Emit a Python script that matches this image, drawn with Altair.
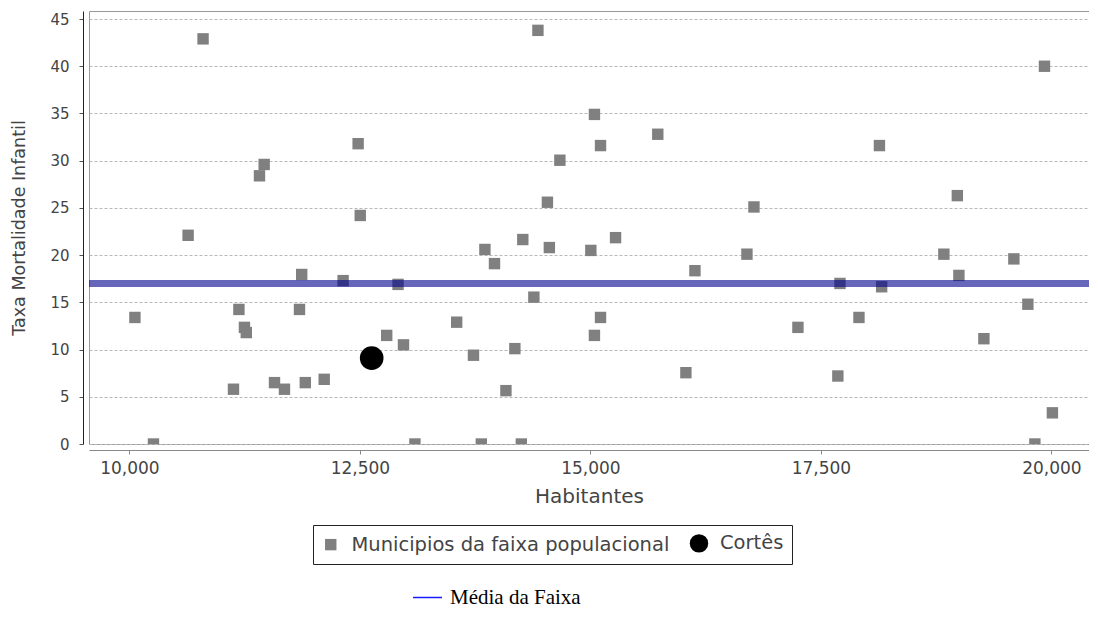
import altair as alt
import pandas as pd

# Municipios da faixa populacional
habitantes = [10060, 10261, 10637, 10799, 11129, 11188, 11248, 11268, 11411, 11462,
              11574, 11682, 11845, 11869, 11908, 12113, 12318, 12481, 12504, 12791,
              12914, 12973, 13097, 13550, 13732, 13817, 13856, 13960, 14084, 14181,
              14251, 14267, 14387, 14431, 14534, 14555, 14669, 15005, 15044, 15044,
              15110, 15110, 15273, 15731, 16036, 16134, 16698, 16774, 17251, 17684,
              17707, 17913, 18135, 18159, 18834, 18980, 18997, 19268, 19593, 19745,
              19821, 19925, 20011]
taxa = [13.4, 0, 22.1, 42.9, 5.8, 14.25, 12.35, 11.8, 28.4, 29.6,
        6.5, 5.8, 14.25, 17.95, 6.5, 6.85, 17.3, 31.8, 24.2, 11.5,
        16.9, 10.5, 0, 12.9, 9.4, 0, 20.6, 19.1, 5.65, 10.1,
        0, 21.65, 15.55, 43.8, 25.6, 20.8, 30.05, 20.5, 34.9, 11.5,
        31.6, 13.4, 21.85, 32.8, 7.55, 18.35, 20.1, 25.1, 12.35, 7.2,
        17.0, 13.4, 31.6, 16.65, 20.1, 26.3, 17.85, 11.15, 19.6, 14.8,
        0, 40.0, 3.3]

# Cortês
cortes_habitantes = [12628]
cortes_taxa = [9.1]

# Média da faixa
media = [17.0]

series = ["Municipios da faixa populacional", "Cortês"]
x_ticks = [10000, 12500, 15000, 17500, 20000]
y_ticks = [0, 5, 10, 15, 20, 25, 30, 35, 40, 45]

df = pd.DataFrame({
    "Habitantes": habitantes + cortes_habitantes,
    "Taxa": taxa + cortes_taxa,
    "Serie": [series[0]] * len(habitantes) + [series[1]] * len(cortes_habitantes),
})
df_cortes = pd.DataFrame({"Habitantes": cortes_habitantes, "Taxa": cortes_taxa})
df_media = pd.DataFrame({"Media": media, "Nome": ["Média da Faixa"]})

x_scale = alt.Scale(domain=[9562, 20408], nice=False, zero=False)
y_scale = alt.Scale(domain=[0, 45.85], nice=False, zero=False)

leg = dict(title=None, orient="none", legendX=224, legendY=514,
           direction="horizontal", strokeColor="#222222",
           padding=8, columnPadding=16, labelOffset=11, labelLimit=500,
           labelFontSize=19.5, labelFont="DejaVu Sans", labelColor="#444444",
           symbolOpacity=1)

x_axis = alt.Axis(title="Habitantes", format=",.0f", values=x_ticks,
                  offset=6, grid=False, domainColor="#888888", tickColor="#888888",
                  tickSize=4, labelPadding=6, titlePadding=10,
                  labelFontSize=17, titleFontSize=20)
y_axis = alt.Axis(title="Taxa Mortalidade Infantil", values=y_ticks, format="d",
                  offset=6, grid=True, gridColor="#b8b8b8", gridDash=[3, 2],
                  domainColor="#222222", tickColor="#555555", tickSize=4,
                  labelPadding=10, titlePadding=21,
                  labelFontSize=15, titleFontSize=17.5)

points = alt.Chart(df).mark_point(filled=True, opacity=1, clip=True).encode(
    x=alt.X("Habitantes:Q", scale=x_scale, axis=x_axis),
    y=alt.Y("Taxa:Q", scale=y_scale, axis=y_axis),
    color=alt.Color("Serie:N", scale=alt.Scale(domain=series, range=["#808080", "#000000"]),
                    legend=alt.Legend(**leg)),
    shape=alt.Shape("Serie:N", scale=alt.Scale(domain=series, range=["square", "circle"]),
                    legend=alt.Legend(**leg)),
    size=alt.Size("Serie:N", scale=alt.Scale(domain=series, range=[130, 340]),
                  legend=alt.Legend(**leg)),
)

cortes = alt.Chart(df_cortes).mark_circle(color="#000000", opacity=1, size=560).encode(
    x=alt.X("Habitantes:Q", scale=x_scale, axis=x_axis),
    y=alt.Y("Taxa:Q", scale=y_scale, axis=y_axis),
)

rule = alt.Chart(df_media).mark_rule(color="#00008c", opacity=0.6, strokeWidth=7).encode(
    y=alt.Y("Media:Q", scale=y_scale, axis=y_axis),
)

# legend entry for the mean line (zero-width copy, only feeds the legend)
rule_legend = alt.Chart(df_media).mark_rule(color="#1a1aff", strokeWidth=0).encode(
    y=alt.Y("Media:Q", scale=y_scale, axis=y_axis),
    strokeDash=alt.StrokeDash("Nome:N", scale=alt.Scale(range=[[1, 0]]),
                              legend=alt.Legend(title=None, orient="none", legendX=323, legendY=571,
                                                symbolType="stroke", symbolStrokeColor="#1a1aff",
                                                symbolStrokeWidth=1.5, symbolSize=841,
                                                symbolOpacity=1, padding=0, labelOffset=7,
                                                labelLimit=500,
                                                labelFont="Liberation Serif", labelFontSize=21,
                                                labelColor="#000000")),
)

chart = alt.layer(points, cortes, rule, rule_legend).properties(
    width=1000, height=433,
    autosize=alt.AutoSizeParams(type="none"),
    padding={"left": 81, "top": 3, "right": 0, "bottom": 168},
).configure_view(
    stroke="#999999", strokeWidth=1
).configure_axis(
    labelFont="DejaVu Sans", labelColor="#444444",
    titleFont="DejaVu Sans", titleColor="#444444", titleFontWeight="normal",
)

chart.save("out.html", embed_options={"renderer": "svg", "actions": False})
